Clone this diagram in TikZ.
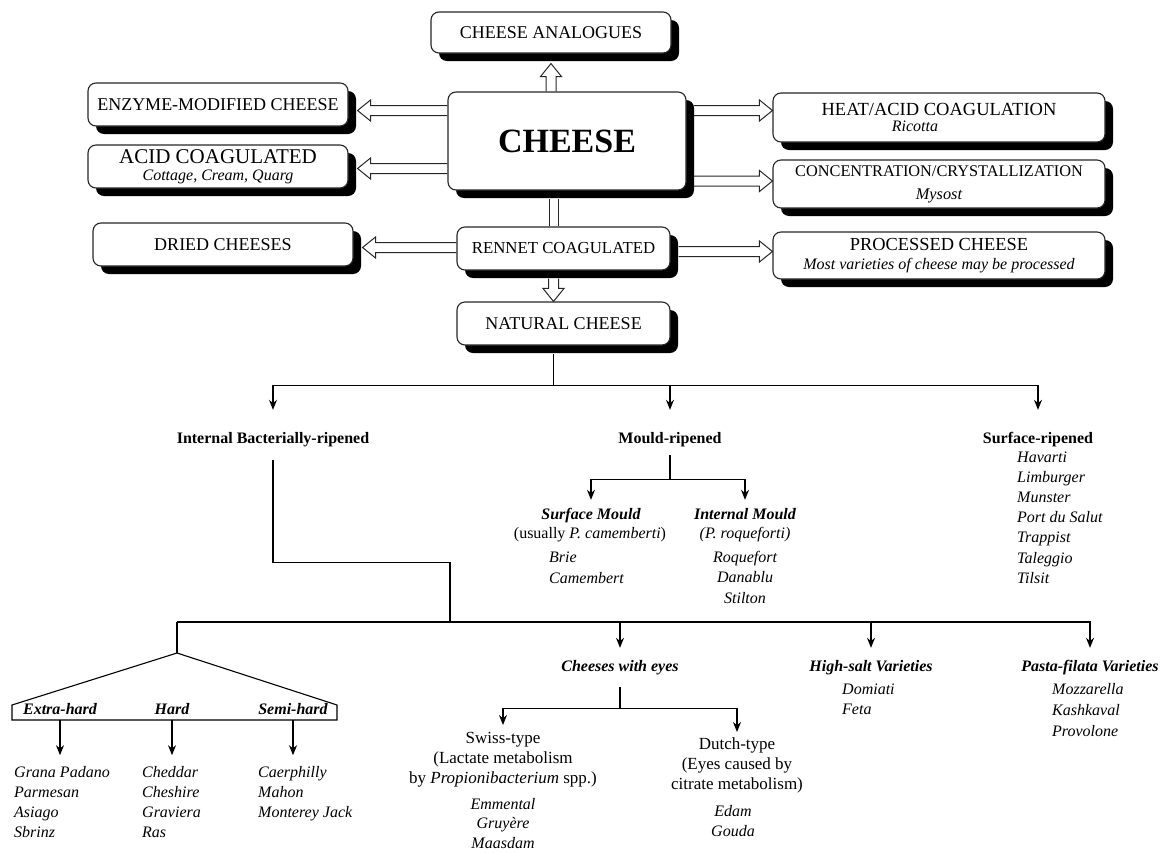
\documentclass[tikz,border=0pt]{standalone}
\usepackage{fontspec}
\setmainfont{Liberation Serif}
\usetikzlibrary{arrows.meta,shadows,calc,positioning}

\tikzset{
  cbox/.style={draw=black!85, line width=1.1pt, rounded corners=8pt, fill=white,
    drop shadow={shadow xshift=8pt, shadow yshift=-8pt, opacity=1, fill=black},
    align=center, inner sep=0pt, font=\fontsize{18}{19}\selectfont},
  hline/.style={draw=black!85, line width=1pt, line join=miter},
  dline/.style={draw=black!85, double=white, double distance=8pt, line width=1pt},
  tline/.style={line width=1.1pt},
  tarrow/.style={line width=1.1pt, -{Stealth[length=10pt,width=8pt]}},
  head/.style={font=\fontsize{16}{19}\selectfont\bfseries, inner sep=0pt, text height=11pt, text depth=4pt},
  bihead/.style={head, font=\fontsize{16}{19}\selectfont\bfseries\itshape},
  item/.style={font=\fontsize{16}{19}\selectfont\itshape, inner sep=0pt},
  sub/.style={font=\fontsize{16}{19}\selectfont, inner sep=0pt},
  note/.style={font=\fontsize{17}{20}\selectfont, inner sep=0pt, align=center}
}

% hollow block arrow from #1 to #2
\newcommand\hollowarrow[2]{%
  \path #1 coordinate (ha) #2 coordinate (hb);
  \coordinate (hm) at ($(hb)!13pt!(ha)$);
  \draw[hline] ($(ha)!5pt!90:(hb)$) -- ($(hm)!5pt!90:(hb)$) -- ($(hm)!10.5pt!90:(hb)$) -- (hb)
    -- ($(hm)!10.5pt!-90:(hb)$) -- ($(hm)!5pt!-90:(hb)$) -- ($(ha)!5pt!-90:(hb)$);
}

\begin{document}
\begin{tikzpicture}[x=1pt, y=-1pt]
\useasboundingbox (0,0) rectangle (1173,852);

%%%%%%%%%%%%%%%%%%%%%%%%%%%%%%%%%%%%%%%%%%
  % Top boxes
  \node[cbox, minimum width=240pt, minimum height=41pt] (analog) at (551,32.5) {CHEESE ANALOGUES};
  \node[cbox, minimum width=260pt, minimum height=43pt] (enzyme) at (218,104.5) {ENZYME-MODIFIED CHEESE};
  \node[cbox, minimum width=260pt, minimum height=43pt, font=\fontsize{16}{17}\selectfont] (acid) at (218,166.5)
    {{\fontsize{21}{17}\selectfont ACID COAGULATED}\\{\itshape Cottage, Cream, Quarg}};
  \node[cbox, minimum width=238pt, minimum height=98pt, font=\fontsize{34}{40}\selectfont\bfseries] (cheese) at (567,141)
    {\raisebox{-6pt}{CHEESE}};
  \node[cbox, minimum width=332pt, minimum height=49pt, font=\fontsize{16}{16}\selectfont] (heat) at (939,117.5)
    {{\fontsize{18.5}{16}\selectfont HEAT/ACID COAGULATION}\\{\itshape Ricotta}\hspace*{48pt}};
  \node[cbox, minimum width=332pt, minimum height=48pt, font=\fontsize{16.3}{18}\selectfont] (conc) at (939,184)
    {CONCENTRATION/CRYSTALLIZATION\\[5pt]{\itshape Mysost}};
  \node[cbox, minimum width=332pt, minimum height=47pt, font=\fontsize{16}{19}\selectfont] (proc) at (939,255.5)
    {{\fontsize{18.4}{19}\selectfont PROCESSED CHEESE}\\{\itshape Most varieties of cheese may be processed}};
  \node[cbox, minimum width=260pt, minimum height=43pt] (dried) at (223,244.5) {DRIED CHEESES};
  \node[cbox, minimum width=213pt, minimum height=43pt, font=\fontsize{16.8}{18}\selectfont] (rennet) at (563.5,248.5)
    {RENNET COAGULATED};
  \node[cbox, minimum width=213pt, minimum height=43pt] (natural) at (563.5,323.5) {NATURAL CHEESE};

  % Hollow arrows
  \hollowarrow{(cheese.north -| analog.south)}{($(analog.south)+(0,10)$)}
  \hollowarrow{($(cheese.west |- enzyme.east)+(0,6)$)}{($(enzyme.east)+(9,6)$)}
  \hollowarrow{($(cheese.west |- acid.east)+(0,2)$)}{($(acid.east)+(9,2)$)}
  \hollowarrow{($(cheese.east |- heat.west)+(7,-7)$)}{($(heat.west)+(0,-7)$)}
  \hollowarrow{($(cheese.east |- conc.west)+(7,-3)$)}{($(conc.west)+(0,-3)$)}
  \draw[dline] ($(rennet.north |- cheese.south)+(-10,8)$) -- ($(rennet.north)+(-10,0)$);
  \hollowarrow{($(rennet.west |- dried.east)+(0,3)$)}{($(dried.east)+(9,3)$)}
  \hollowarrow{($(rennet.east |- proc.west)+(8,-4)$)}{($(proc.west)+(0,-4)$)}
  \hollowarrow{($(rennet.south)+(-10,8)$)}{($(natural.north)+(-10,0)$)}

%%%%%%%%%%%%%%%%%%%%%%%%%%%%%%%%%%%%%%%%%%
  % Ripening groups
  \node[head, anchor=base] (ibr) at (273,443) {Internal Bacterially-ripened};
  \node[head, anchor=base] (mould) at (670,443) {Mould-ripened};
  \node[head, anchor=base] (surf) at (1038,443) {Surface-ripened};
  \coordinate (nj) at ($(natural.south)+(-10,40)$);
  \draw[tline] ($(natural.south)+(-10,8)$) -- (nj);
  \draw[tarrow] (nj) -| ($(ibr.north)+(0,-22)$);
  \draw[tarrow] (nj) -| ($(surf.north)+(0,-22)$);
  \draw[tarrow] (nj -| mould.north) -- ($(mould.north)+(0,-22)$);

  % Surface-ripened
  \foreach \c [count=\i from 0] in {Havarti, Limburger, Munster, Port du Salut, Trappist, Taleggio, Tilsit}
    \node[item, anchor=base west] (surf\i) at (1017, 462+20.2*\i) {\c};

  % Mould-ripened
  \node[bihead, anchor=base] (smould) at (591,519) {Surface Mould};
  \node[bihead, anchor=base] (imould) at (745,519) {Internal Mould};
  \node[sub, anchor=base] (smouldsp) at (590,538) {(usually \textit{P. camemberti})};
  \node[sub, anchor=base] (imouldsp) at (745,538) {\textit{(P. roqueforti)}};
  \coordinate (mj) at ($(mould.south)+(0,32)$);
  \draw[tline] ($(mould.south)+(0,8)$) -- (mj);
  \draw[tarrow] (mj) -| ($(smould.north)+(0,-8)$);
  \draw[tarrow] (mj) -| ($(imould.north)+(0,-8)$);
  \foreach \c [count=\i from 0] in {Brie, Camembert}
    \node[item, anchor=base west] (brie\i) at (549, 562+21*\i) {\c};
  \foreach \c [count=\i from 0] in {Roquefort, Danablu, Stilton}
    \node[item, anchor=base] (roq\i) at (745, 562+20.5*\i) {\c};

%%%%%%%%%%%%%%%%%%%%%%%%%%%%%%%%%%%%%%%%%%
  % Internal bacterially-ripened
  \coordinate (bj1) at ($(ibr.south)+(0,115)$);
  \coordinate (drop) at (450,622);
  \coordinate (lj) at (177,622);
  \draw[tline] ($(ibr.south)+(0,13)$) -- (bj1) -| (drop);

  \node[bihead, anchor=base] (eyes) at (620,671) {Cheeses with eyes};
  \node[bihead, anchor=base] (hsalt) at (871,671) {High-salt Varieties};
  \node[bihead, anchor=base] (pasta) at (1090,671) {Pasta-filata Varieties};
  \draw[tarrow] (lj) -| ($(pasta.north)+(0,-12)$);
  \draw[tarrow] (eyes.north |- lj) -- ($(eyes.north)+(0,-12)$);
  \draw[tarrow] (hsalt.north |- lj) -- ($(hsalt.north)+(0,-12)$);

  % Hardness bracket
  \coordinate (bj) at (177,653);
  \coordinate (bl) at (12,705);
  \coordinate (br) at (337,705);
  \draw[tline] (lj) -- (bj);
  \draw[tline, line join=miter] (bj) -- (bl) -- ++(0,15) -- ($(br)+(0,15)$) -- (br) -- cycle;
  \node[bihead, anchor=base] (ehard) at (60,714) {Extra-hard};
  \node[bihead, anchor=base] (hard) at (172,714) {Hard};
  \node[bihead, anchor=base] (shard) at (293,714) {Semi-hard};
  \draw[tarrow] ($(ehard.south)+(0,2)$) -- ++(0,35);
  \draw[tarrow] ($(hard.south)+(0,2)$) -- ++(0,35);
  \draw[tarrow] ($(shard.south)+(0,2)$) -- ++(0,35);
  \foreach \c [count=\i from 0] in {Grana Padano, Parmesan, Asiago, Sbrinz}
    \node[item, anchor=base west] (ehard\i) at (14, 777+20.3*\i) {\c};
  \foreach \c [count=\i from 0] in {Cheddar, Cheshire, Graviera, Ras}
    \node[item, anchor=base west] (hard\i) at (142, 777+20.3*\i) {\c};
  \foreach \c [count=\i from 0] in {Caerphilly, Mahon, Monterey Jack}
    \node[item, anchor=base west] (shard\i) at (258, 777+20.3*\i) {\c};

  % Cheeses with eyes
  \node[note, anchor=north] (swiss) at (503,732) {Swiss-type\\(Lactate metabolism\\by \textit{Propionibacterium} spp.)};
  \node[note, anchor=north] (dutch) at (737,737) {Dutch-type\\(Eyes caused by\\citrate metabolism)};
  \coordinate (ej) at ($(eyes.south)+(0,33)$);
  \draw[tline] ($(eyes.south)+(0,12)$) -- (ej);
  \draw[tarrow] (ej) -| ($(swiss.north)+(0,-7)$);
  \draw[tarrow] (ej) -| ($(dutch.north)+(0,-5)$);
  \foreach \c [count=\i from 0] in {Emmental, Gruyère, Maasdam}
    \node[item, anchor=base] (swiss\i) at (503, 809+19.5*\i) {\c};
  \foreach \c [count=\i from 0] in {Edam, Gouda}
    \node[item, anchor=base] (dutch\i) at (733, 816+20*\i) {\c};

  % High-salt and pasta-filata
  \foreach \c [count=\i from 0] in {Domiati, Feta}
    \node[item, anchor=base west] (hsalt\i) at (842, 694+20*\i) {\c};
  \foreach \c [count=\i from 0] in {Mozzarella, Kashkaval, Provolone}
    \node[item, anchor=base west] (pasta\i) at (1052, 694+21*\i) {\c};

\end{tikzpicture}
\end{document}
